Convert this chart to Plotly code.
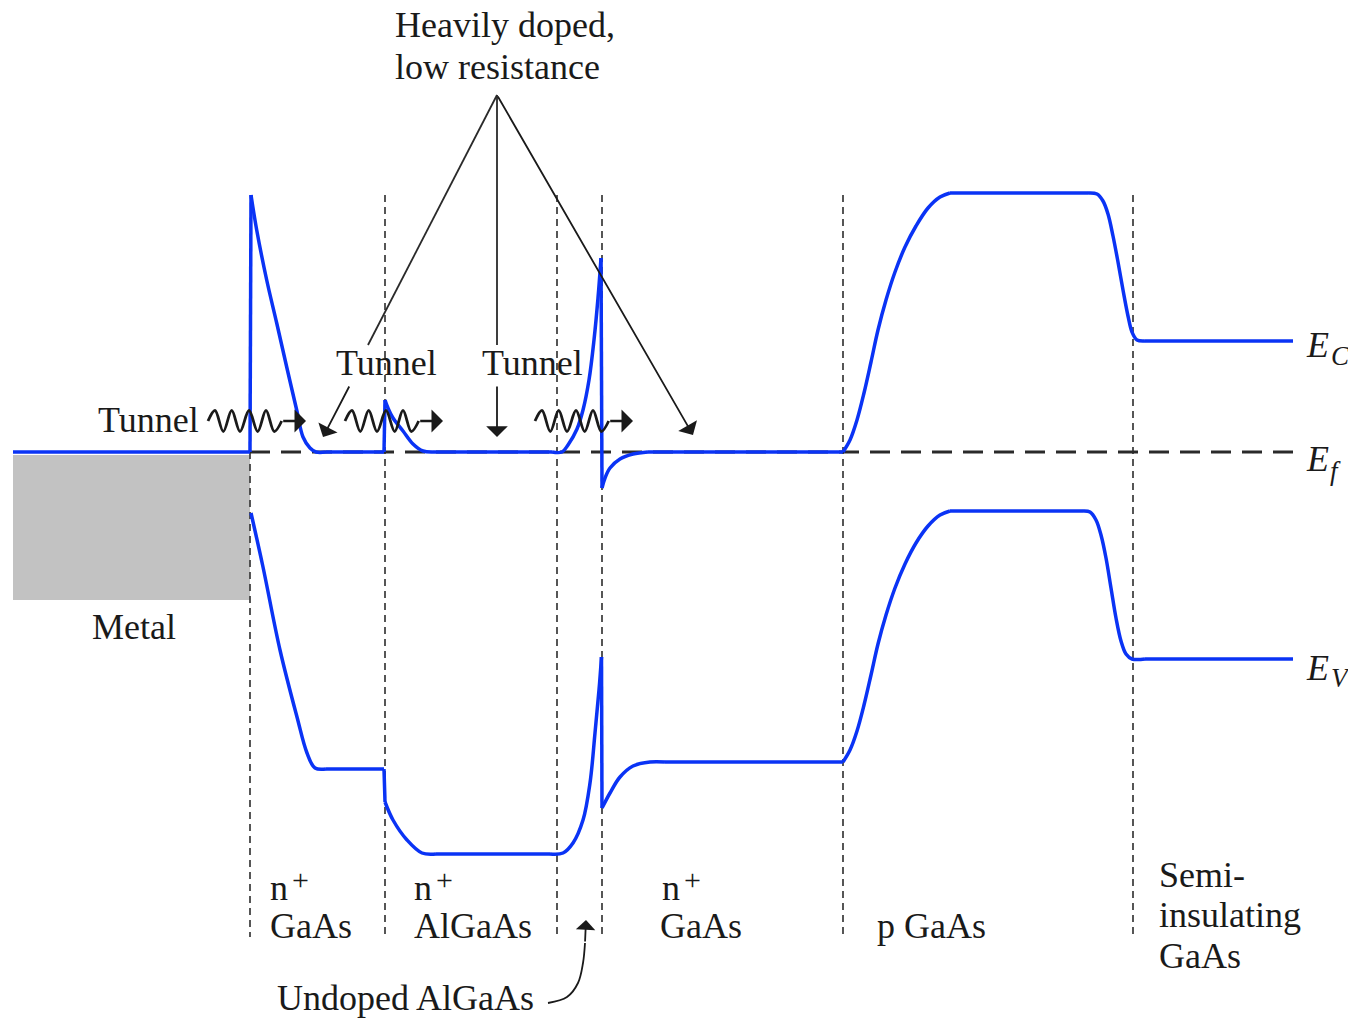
import plotly.graph_objects as go

# ---- values (pixel-space: x right, y down) ----
# Conduction band edge E_C (None separates drawing segments)
ec_x = [13, 250, None, 250, 251, None,
        251, 256.7, 266.7, 276.7, 286.7, 296.7, 303, 310, 316, 326, None,
        326, 384, None, 384, 385, None,
        385, 388, 393, 403, 413, 423, 433, None, 433, 552, None,
        552, 562, 568, 577, 583, 589, 594, 598, 601, None, 601, 602, None,
        602, 605, 610, 620, 633, 648, None, 648, 843, None,
        843, 850, 857, 864, 871, 878, 886, 895, 905, 916, 928, 940, 950, None, 950, 1088, None,
        1088, 1097, 1103, 1108, 1113, 1118, 1123, 1128, 1132, 1137, 1145, None, 1145, 1293]
ec_y = [452, 452, None, 452, 195, None,
        195, 230, 280, 323, 367, 410, 437, 448, 452, 452, None,
        452, 452, None, 452, 400, None,
        400, 408, 418, 431, 444, 451, 452, None, 452, 452, None,
        452, 452, 445, 429, 410, 380, 340, 298, 258, None, 258, 488, None,
        488, 478, 468, 459, 454, 452, None, 452, 452, None,
        452, 440, 420, 393, 362, 330, 300, 272, 247, 226, 208, 197, 193, None, 193, 193, None,
        193, 194, 201, 214, 236, 262, 290, 316, 332, 340, 341, None, 341, 341]

# Valence band edge E_V
ev_x = [251, 263, 280, 297, 307, 315, 326, None, 326, 384, None, 384, 385, None,
        385, 393, 407, 422, 436, None, 436, 550, None,
        550, 563, 573, 583, 590, 595, 599, 601.5, None, 601.5, 602, None,
        602, 610, 620, 633, 650, 665, None, 665, 843, None,
        843, 850, 857, 864, 871, 878, 886, 895, 905, 916, 928, 940, 950, None, 950, 1083, None,
        1083, 1090, 1096, 1101, 1106, 1111, 1116, 1121, 1126, 1132, 1145, None, 1145, 1293]
ev_y = [513, 567, 650, 717, 753, 768, 769, None, 769, 769, None, 769, 802, None,
        802, 820, 840, 853, 854, None, 854, 854, None,
        854, 853, 843, 820, 783, 733, 690, 657, None, 657, 808, None,
        808, 793, 777, 766, 762, 762, None, 762, 762, None,
        762, 750, 731, 705, 675, 644, 615, 588, 564, 543, 526, 515, 511, None, 511, 511, None,
        511, 512, 520, 535, 558, 588, 618, 641, 654, 659, 659, None, 659, 659]

# Fermi level
ef_level = 452
ef_x = [250, 1295]

# Metal region
metal_x = [13, 250]
metal_y = [455, 600]

# Layer boundaries (dashed verticals)
boundary_x = [250, 385, 557, 602, 843, 1133]
boundary_top = [452, 195, 195, 195, 195, 195]
boundary_bottom = 937

# Tunnelling wave (relative shape) and start positions
wave_dx = [0, 7, 15.3, 23.7, 32, 41, 49.7, 58, 66.3, 73.7]
wave_dy = [0, -10.5, 10.5, -10.5, 10.5, -10.5, 10.5, -10.5, 10.5, 0]
wave_start = [208, 345, 535]
wave_y0 = 421
wave_tip = 98

# Text labels: (text, x_left, y_center, size)
labels = [
    ("Heavily doped,", 393, 25, 36),
    ("low resistance", 393, 67, 36),
    ("Tunnel", 96, 420, 36),
    ("Tunnel", 334, 363, 36),
    ("Tunnel", 480, 363, 36),
    ("Metal", 90, 627, 36),
    ("n", 268, 888, 36),
    ("+", 290, 879, 30),
    ("GaAs", 268, 926, 36),
    ("n", 412, 888, 36),
    ("+", 434, 879, 30),
    ("AlGaAs", 412, 926, 36),
    ("n", 660, 888, 36),
    ("+", 682, 879, 30),
    ("GaAs", 658, 926, 36),
    ("p GaAs", 875, 926, 36),
    ("Semi-", 1157, 875, 36),
    ("insulating", 1157, 915, 36),
    ("GaAs", 1157, 956, 36),
    ("Undoped AlGaAs", 275, 998, 36),
    ("<i>E</i>", 1304, 345, 36),
    ("<i>C</i>", 1329, 356, 27),
    ("<i>E</i>", 1304, 459, 36),
    ("<i>f</i>", 1328, 471, 27),
    ("<i>E</i>", 1304, 668, 36),
    ("<i>V</i>", 1329, 678, 27),
]

# Pointer lines from "Heavily doped" (apex, then broken segments around the Tunnel labels)
apex = (497, 95)
pointer_upper = [(368, 345), (497, 345)]
pointer_lower = [((350, 385), (323, 437)), ((497, 385), (497, 437))]
pointer_full = ((497, 95), (693, 435))

# Curved arrow for "Undoped AlGaAs"
undoped_x = [548, 567, 578, 583, 585]
undoped_y = [1003, 997, 983, 963, 943]
undoped_tip = (586, 920)

BLUE = "#0a33f5"
INK = "#1a1a1a"
FONT = "Liberation Serif"

fig = go.Figure()

fig.add_shape(type="rect", x0=metal_x[0], x1=metal_x[1], y0=metal_y[0], y1=metal_y[1],
              fillcolor="#c2c2c2", line_width=0, layer="below")

for bx, bt in zip(boundary_x, boundary_top):
    fig.add_trace(go.Scatter(x=[bx, bx], y=[bt, boundary_bottom], mode="lines",
                             line=dict(color="#444444", width=1.8, dash="7px,5px"),
                             hoverinfo="skip"))

fig.add_trace(go.Scatter(x=ef_x, y=[ef_level, ef_level], mode="lines",
                         line=dict(color="#2a2a2a", width=3, dash="20px,11px"),
                         hoverinfo="skip"))

for bx, by in ((ec_x, ec_y), (ev_x, ev_y)):
    fig.add_trace(go.Scatter(x=bx, y=by, mode="lines", connectgaps=False,
                             line=dict(color=BLUE, width=3.5, shape="spline", smoothing=1.0),
                             hoverinfo="skip"))

# pointer lines
for p in pointer_upper:
    fig.add_trace(go.Scatter(x=[apex[0], p[0]], y=[apex[1], p[1]], mode="lines",
                             line=dict(color="#2a2a2a", width=1.8), hoverinfo="skip"))

annotations = []
arrow_common = dict(xref="x", yref="y", axref="x", ayref="y", showarrow=True,
                    arrowhead=1, arrowsize=2.0, arrowwidth=1.8, arrowcolor=INK,
                    text="", standoff=0, startstandoff=0)
for tail, tip in pointer_lower:
    annotations.append(dict(x=tip[0], y=tip[1], ax=tail[0], ay=tail[1], **arrow_common))
annotations.append(dict(x=pointer_full[1][0], y=pointer_full[1][1],
                        ax=pointer_full[0][0], ay=pointer_full[0][1], **arrow_common))

# waves
for ws in wave_start:
    fig.add_trace(go.Scatter(x=[ws + d for d in wave_dx], y=[wave_y0 + d for d in wave_dy],
                             mode="lines", line=dict(color=INK, width=2.8, shape="spline", smoothing=1),
                             hoverinfo="skip"))
    annotations.append(dict(x=ws + wave_tip, y=wave_y0, ax=ws + wave_dx[-1], ay=wave_y0,
                            **{**arrow_common, "arrowwidth": 2.4, "arrowsize": 1.6}))

# undoped curved arrow
fig.add_trace(go.Scatter(x=undoped_x, y=undoped_y, mode="lines",
                         line=dict(color=INK, width=1.8, shape="spline", smoothing=1),
                         hoverinfo="skip"))
annotations.append(dict(x=undoped_tip[0], y=undoped_tip[1], ax=undoped_x[-1], ay=undoped_y[-1],
                        **{**arrow_common, "arrowsize": 1.8}))

for txt, x, y, s in labels:
    annotations.append(dict(x=x, y=y, xref="x", yref="y", text=txt, showarrow=False,
                            xanchor="left", yanchor="middle",
                            font=dict(family=FONT, size=s, color=INK)))

fig.update_layout(
    width=1348, height=1020, margin=dict(l=0, r=0, t=0, b=0),
    paper_bgcolor="white", plot_bgcolor="white", showlegend=False,
    xaxis=dict(range=[0, 1348], visible=False, fixedrange=True),
    yaxis=dict(range=[1020, 0], visible=False, fixedrange=True),
    annotations=annotations,
)

fig.write_html("out.html", config={"displayModeBar": False},
               post_script="document.body.style.margin='0';document.body.style.overflow='hidden';")
